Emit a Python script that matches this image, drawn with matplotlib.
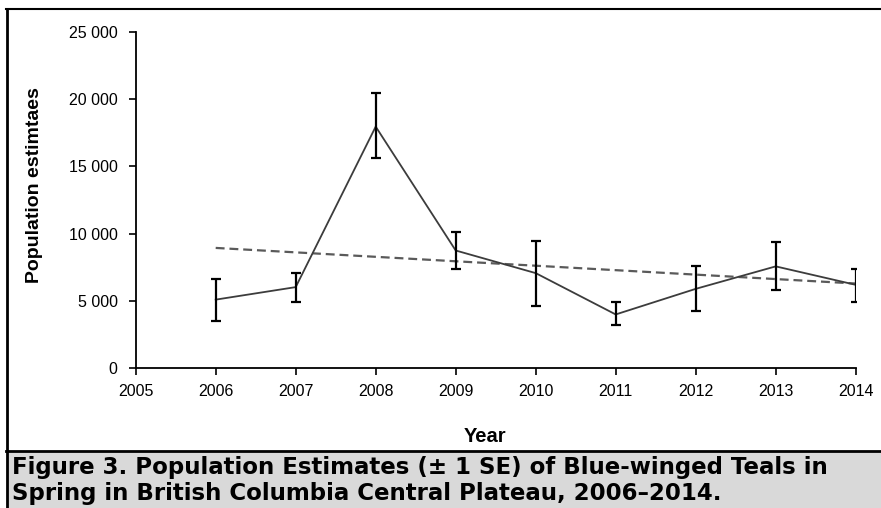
import matplotlib
matplotlib.use("Agg")
import matplotlib.pyplot as plt
import numpy as np
from matplotlib.ticker import FuncFormatter
from matplotlib.patches import Rectangle
from matplotlib.lines import Line2D

plt.rcParams['font.family'] = ['Liberation Sans', 'DejaVu Sans']

# Spring population estimates of Blue-winged Teal with ±1 SE
years = [2006, 2007, 2008, 2009, 2010, 2011, 2012, 2013, 2014]
estimates = [5100, 6030, 17950, 8750, 7070, 4000, 5900, 7570, 6200]
se_upper = [6630, 7090, 20470, 10100, 9450, 4950, 7570, 9370, 7340]
se_lower = [3530, 4950, 15620, 7350, 4600, 3200, 4250, 5790, 4950]

x_ticks = list(range(2005, 2015))
y_ticks = [0, 5000, 10000, 15000, 20000, 25000]

caption_lines = [
    "Figure 3. Population Estimates (\u00b1 1 SE) of Blue-winged Teals in",
    "Spring in British Columbia Central Plateau, 2006\u20132014.",
]

W, H = 881, 508
fig = plt.figure(figsize=(W / 100, H / 100), dpi=100)

# Figure frame and caption band
fig.patches.append(Rectangle((8 / W, 0), 1, 1 - 452 / H, transform=fig.transFigure,
                             facecolor="#d9d9d9", edgecolor="none", zorder=0))
fig.lines.append(Line2D([7 / W, 7 / W], [0, 1 - 9 / H], transform=fig.transFigure,
                        color="black", lw=2.0))
fig.lines.append(Line2D([6 / W, 1], [1 - 9 / H, 1 - 9 / H], transform=fig.transFigure,
                        color="black", lw=1.5))
fig.lines.append(Line2D([6 / W, 1], [1 - 451 / H, 1 - 451 / H], transform=fig.transFigure,
                        color="black", lw=2.0))

ax = fig.add_axes([135.7 / W, 1 - 368.3 / H, 720 / W, 336.6 / H])
ax.set_facecolor("none")

yr = np.array(years, dtype=float)
est = np.array(estimates, dtype=float)
yerr = np.vstack([est - np.array(se_lower), np.array(se_upper) - est])

ax.plot(yr, est, color="#3c3c3c", lw=1.3, zorder=3)
ax.errorbar(yr, est, yerr=yerr, fmt="none", ecolor="black", elinewidth=1.6,
            capsize=3.6, capthick=1.6, zorder=4)

# Linear trend over the survey years
slope, intercept = np.polyfit(yr, est, 1)
trend_x = np.array([years[0], years[-1]], dtype=float)
ax.plot(trend_x, slope * trend_x + intercept, color="#5a5a5a", lw=1.6,
        dashes=(4, 2.2), zorder=2)

ax.set_xlim(2005, 2014)
ax.set_ylim(0, 25000)
ax.set_xticks(x_ticks)
ax.set_yticks(y_ticks)
ax.yaxis.set_major_formatter(FuncFormatter(lambda v, p: f"{v:,.0f}".replace(",", " ")))

for s in ["top", "right"]:
    ax.spines[s].set_visible(False)
for s in ["left", "bottom"]:
    ax.spines[s].set_linewidth(1.3)
    ax.spines[s].set_color("black")

ax.tick_params(axis="both", direction="out", length=5, width=1.2, labelsize=11.5,
               colors="black")
ax.tick_params(axis="y", pad=8)
ax.tick_params(axis="x", pad=6)

fig.text(35 / W, 1 - 185 / H, "Population estimtaes", rotation=90, fontsize=14,
         fontweight="bold", ha="center", va="center")
fig.text(485 / W, 1 - 436 / H, "Year", fontsize=14.5, fontweight="bold",
         ha="center", va="center")

for line, base in zip(caption_lines, [474, 500]):
    fig.text(12 / W, 1 - base / H, line, fontsize=16.5, fontweight="bold",
             family=["DejaVu Sans"], ha="left", va="baseline")

fig.savefig("out.png", dpi=100)
